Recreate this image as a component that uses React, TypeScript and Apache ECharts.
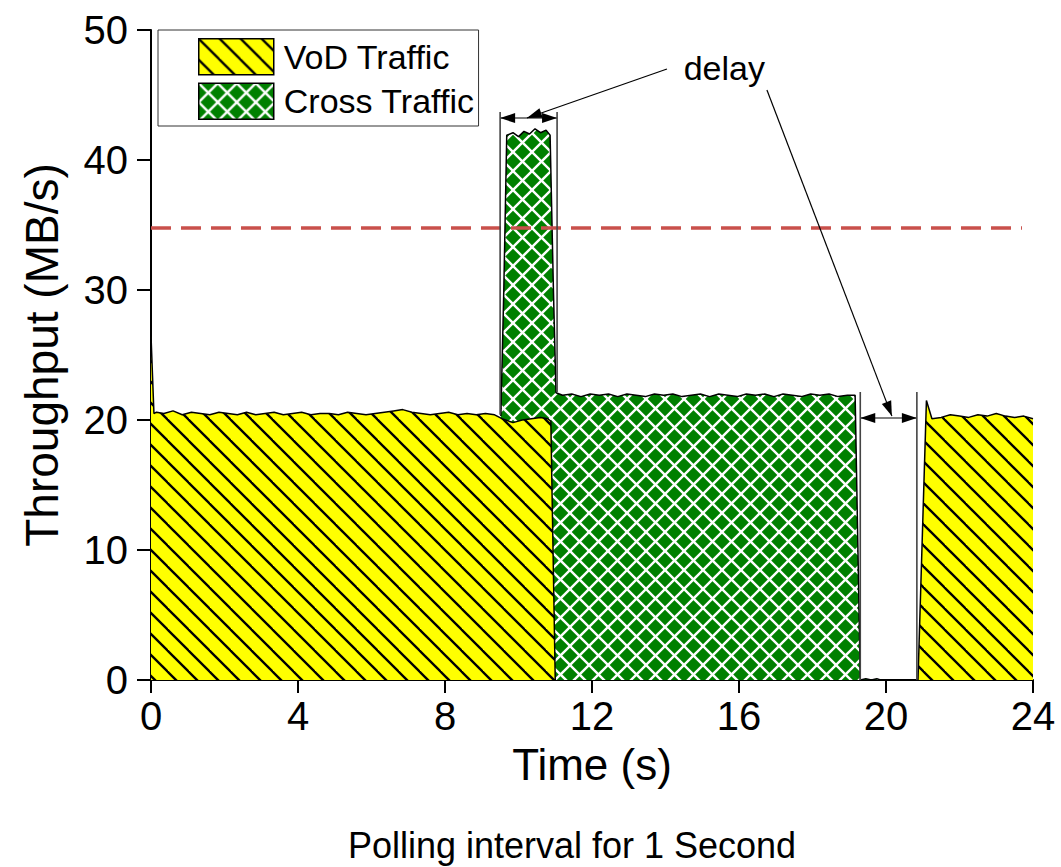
import React, { useEffect, useRef } from 'react';
import * as echarts from 'echarts';

// ---- data ----
const vodTime = [0, 0.08, 0.15, 0.35, 0.6, 0.85, 1.1, 1.35, 1.6, 1.85, 2.1, 2.35, 2.6, 2.85, 3.1, 3.35, 3.6, 3.85, 4.1, 4.35, 4.6, 4.85, 5.1, 5.35, 5.6, 5.85, 6.1, 6.35, 6.6, 6.85, 7.1, 7.35, 7.6, 7.85, 8.1, 8.35, 8.6, 8.85, 9.1, 9.35, 9.55, 9.85, 10.1, 10.35, 10.6, 10.8, 10.88, 11.0,
  15,
  20.87, 21.1, 21.25, 21.5, 21.75, 22.0, 22.25, 22.5, 22.75, 23.0, 23.25, 23.5, 23.75, 24.0];
const vodValue = [26.5, 20.5, 20.6, 20.5, 20.7, 20.4, 20.6, 20.5, 20.4, 20.6, 20.5, 20.4, 20.6, 20.4, 20.5, 20.6, 20.4, 20.5, 20.6, 20.4, 20.5, 20.5, 20.4, 20.6, 20.5, 20.4, 20.5, 20.6, 20.7, 20.8, 20.6, 20.5, 20.4, 20.5, 20.6, 20.4, 20.5, 20.4, 20.5, 20.4, 20.1, 19.8, 20.0, 20.1, 20.2, 20.1, 19.9, 0,
  null,
  0, 21.5, 20.1, 20.2, 20.4, 20.3, 20.2, 20.4, 20.3, 20.5, 20.3, 20.2, 20.3, 20.1];

const crossTime = [9.52, 9.6, 9.68, 9.85, 10.0, 10.15, 10.3, 10.45, 10.6, 10.75, 10.86, 10.95, 11.02,
  11.2, 11.45, 11.7, 11.95, 12.2, 12.45, 12.7, 12.95, 13.2, 13.45, 13.7, 13.95, 14.2, 14.45, 14.7, 14.95,
  15.2, 15.45, 15.7, 15.95, 16.2, 16.45, 16.7, 16.95, 17.2, 17.45, 17.7, 17.95, 18.2, 18.45, 18.7, 18.95, 19.16,
  19.3, 19.45, 19.6, 19.75, 19.85];
const crossValue = [20.3, 30.0, 41.9, 42.1, 41.8, 42.2, 42.0, 42.4, 42.1, 42.3, 41.9, 30.0, 22.1,
  21.9, 22.0, 21.8, 22.0, 21.9, 22.0, 21.8, 22.0, 21.9, 21.8, 22.0, 21.9, 22.0, 21.8, 21.9, 22.0,
  21.8, 22.0, 21.9, 21.8, 22.0, 21.9, 22.0, 21.8, 22.0, 21.9, 21.8, 22.0, 21.9, 22.0, 21.8, 21.9, 21.9,
  0, 0.1, 0, 0.1, 0];

const thresholdValue = 34.8;
const thresholdEnd = 23.7;

const xTicks = [0, 4, 8, 12, 16, 20, 24];
const yTicks = [0, 10, 20, 30, 40, 50];

// annotation anchors in data units
const vLines = [[9.5, 20.4, 43.7], [11.05, 22.15, 43.7], [19.3, 0, 22.15], [20.84, 0, 22.15]];
const hArrows = [[9.5, 11.05, 43.23], [19.3, 20.84, 20.15]];
const pointers = [[14.04, 47.0, 10.23, 43.23], [16.76, 45.38, 20.16, 20.3]];
const delayAt = [15.6, 47.1];

const FONT = '"Liberation Sans", Arial, Helvetica, sans-serif';

function hatchCanvas(): HTMLCanvasElement {
  const s = 21;
  const c = document.createElement('canvas');
  c.width = s; c.height = s;
  const g = c.getContext('2d')!;
  g.fillStyle = '#ffff00';
  g.fillRect(0, 0, s, s);
  g.strokeStyle = '#000';
  g.lineWidth = 2.3;
  for (const k of [-1, 0, 1]) {
    g.beginPath();
    g.moveTo(-2, k * s - 2);
    g.lineTo(s + 2, s + k * s + 2);
    g.stroke();
  }
  return c;
}

function crossCanvas(): HTMLCanvasElement {
  const s = 19;
  const c = document.createElement('canvas');
  c.width = s; c.height = s;
  const g = c.getContext('2d')!;
  g.fillStyle = '#008000';
  g.fillRect(0, 0, s, s);
  g.strokeStyle = '#ffffff';
  g.lineWidth = 2.4;
  for (const k of [-1, 0, 1]) {
    g.beginPath();
    g.moveTo(-2, k * s - 2);
    g.lineTo(s + 2, s + k * s + 2);
    g.stroke();
  }
  for (const k of [0, 1, 2]) {
    g.beginPath();
    g.moveTo(-2, k * s + 2);
    g.lineTo(s + 2, k * s - s - 2);
    g.stroke();
  }
  return c;
}

function head(tipX: number, tipY: number, fromX: number, fromY: number) {
  const dx = tipX - fromX, dy = tipY - fromY;
  const len = Math.sqrt(dx * dx + dy * dy) || 1;
  const ux = dx / len, uy = dy / len;
  const L = 15, W = 5;
  const bx = tipX - ux * L, by = tipY - uy * L;
  return {
    type: 'polygon',
    shape: { points: [[tipX, tipY], [bx - uy * W, by + ux * W], [bx + uy * W, by - ux * W]] },
    style: { fill: '#000' },
    silent: true,
    z: 100,
  };
}

export default function App() {
  const ref = useRef<HTMLDivElement>(null);

  useEffect(() => {
    if (!ref.current) return;
    const chart = echarts.init(ref.current, undefined, { renderer: 'svg' });
    const vodPattern = { image: hatchCanvas(), repeat: 'repeat' };
    const crossPattern = { image: crossCanvas(), repeat: 'repeat' };

    const vodData = vodTime.map((t, i) => [t, vodValue[i]]);
    const crossData = crossTime.map((t, i) => [t, crossValue[i]]);

    chart.setOption({
      animation: false,
      textStyle: { fontFamily: FONT },
      grid: { left: 151, right: 28, top: 30, bottom: 187, containLabel: false },
      legend: {
        left: 158,
        top: 30,
        orient: 'vertical',
        icon: 'rect',
        itemWidth: 75,
        itemHeight: 36,
        itemGap: 7,
        padding: [8, 4, 6, 40],
        borderColor: '#333',
        borderWidth: 1,
        selectedMode: false,
        textStyle: { fontSize: 34, color: '#000', fontFamily: FONT, padding: [0, 0, 0, 5] },
        data: [
          { name: 'VoD Traffic', itemStyle: { color: vodPattern, borderColor: '#000', borderWidth: 1.5 } },
          { name: 'Cross Traffic', itemStyle: { color: crossPattern, borderColor: '#000', borderWidth: 1.5 } },
        ],
      },
      xAxis: {
        type: 'value',
        min: xTicks[0],
        max: xTicks[xTicks.length - 1],
        interval: xTicks[1] - xTicks[0],
        name: 'Time (s)',
        nameLocation: 'middle',
        nameGap: 62,
        nameTextStyle: { fontSize: 44, color: '#000', fontFamily: FONT },
        axisLine: { show: true, lineStyle: { color: '#000', width: 2 } },
        axisTick: { show: true, inside: false, length: 13, lineStyle: { color: '#000', width: 2 } },
        axisLabel: { fontSize: 40, color: '#000', margin: 16, fontFamily: FONT },
        splitLine: { show: false },
      },
      yAxis: {
        type: 'value',
        min: yTicks[0],
        max: yTicks[yTicks.length - 1],
        interval: yTicks[1] - yTicks[0],
        name: 'Throughput (MB/s)',
        nameLocation: 'middle',
        nameGap: 86,
        nameTextStyle: { fontSize: 46, color: '#000', fontFamily: FONT },
        axisLine: { show: true, lineStyle: { color: '#000', width: 2 } },
        axisTick: { show: true, inside: false, length: 14, lineStyle: { color: '#000', width: 2 } },
        axisLabel: { fontSize: 40, color: '#000', margin: 23, fontFamily: FONT },
        splitLine: { show: false },
      },
      series: [
        {
          name: 'Cross Traffic',
          type: 'line',
          data: crossData,
          symbol: 'none',
          z: 2,
          lineStyle: { color: '#000', width: 1.5 },
          itemStyle: { color: crossPattern },
          areaStyle: { color: crossPattern, opacity: 1, origin: 'start' },
        },
        {
          name: 'VoD Traffic',
          type: 'line',
          data: vodData,
          symbol: 'none',
          z: 3,
          lineStyle: { color: '#000', width: 1.5 },
          itemStyle: { color: vodPattern },
          areaStyle: { color: vodPattern, opacity: 1, origin: 'start' },
          markLine: {
            silent: true,
            symbol: 'none',
            label: { show: false },
            lineStyle: { color: '#c9504b', width: 3.5, type: [20, 10] },
            data: [[{ coord: [0, thresholdValue] }, { coord: [thresholdEnd, thresholdValue] }]],
          },
        },
      ],
    });

    const P = (t: number, v: number) => chart.convertToPixel({ gridIndex: 0 }, [t, v]) as number[];
    const g: any[] = [];
    vLines.forEach(([t, v0, v1]) => {
      const a = P(t, v0), b = P(t, v1);
      g.push({ type: 'line', shape: { x1: a[0], y1: a[1], x2: b[0], y2: b[1] }, style: { stroke: '#444', lineWidth: 1.6 }, silent: true, z: 90 });
    });
    hArrows.forEach(([t0, t1, v]) => {
      const a = P(t0, v), b = P(t1, v);
      g.push({ type: 'line', shape: { x1: a[0], y1: a[1], x2: b[0], y2: b[1] }, style: { stroke: '#555', lineWidth: 1.5 }, silent: true, z: 95 });
      g.push(head(a[0], a[1], b[0], b[1]));
      g.push(head(b[0], b[1], a[0], a[1]));
    });
    pointers.forEach(([t0, v0, t1, v1]) => {
      const a = P(t0, v0), b = P(t1, v1);
      g.push({ type: 'line', shape: { x1: a[0], y1: a[1], x2: b[0], y2: b[1] }, style: { stroke: '#000', lineWidth: 1.2 }, silent: true, z: 96 });
      g.push(head(b[0], b[1], a[0], a[1]));
    });
    const d = P(delayAt[0], delayAt[1]);
    g.push({ type: 'text', x: d[0], y: d[1], style: { text: 'delay', fontSize: 34, fontFamily: FONT, fill: '#000', align: 'center', verticalAlign: 'middle' }, z: 100 });
    g.push({ type: 'text', x: 572, y: 845, style: { text: 'Polling interval for 1 Second', fontSize: 36, fontFamily: FONT, fill: '#000', align: 'center', verticalAlign: 'middle' }, z: 100 });
    chart.setOption({ graphic: g });

    return () => chart.dispose();
  }, []);

  return <div ref={ref} style={{ width: 1061, height: 867, position: 'absolute', left: 0, top: 0 }} />;
}
